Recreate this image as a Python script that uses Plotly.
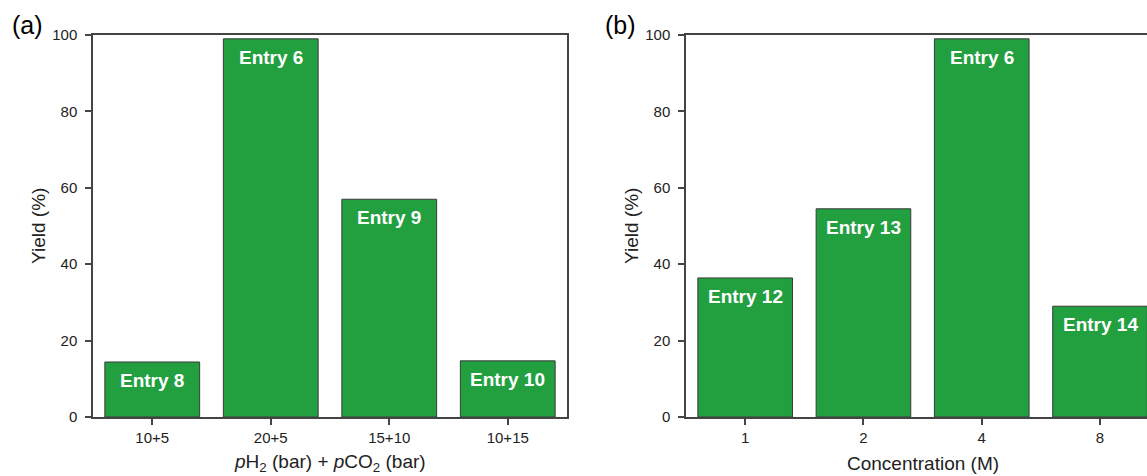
import plotly.graph_objects as go

# Panel (a)
pressure_labels = ["10+5", "20+5", "15+10", "10+15"]
pressure_yield = [14.4, 99.0, 57.0, 14.7]
pressure_entries = ["Entry 8", "Entry 6", "Entry 9", "Entry 10"]

# Panel (b)
conc_labels = ["1", "2", "4", "8"]
conc_yield = [36.4, 54.5, 99.0, 29.0]
conc_entries = ["Entry 12", "Entry 13", "Entry 6", "Entry 14"]

y_ticks = [0, 20, 40, 60, 80, 100]

BAR = "#22A040"
EDGE = "#3a3a3a"
AX = "#444444"
TXT = "#222222"
FONT = "Liberation Sans, Arial, sans-serif"
W, H = 1147, 476

fig = go.Figure()
fig.add_trace(go.Bar(x=pressure_labels, y=pressure_yield, xaxis="x", yaxis="y",
                     marker=dict(color=BAR, line=dict(color=EDGE, width=1)),
                     width=0.8, showlegend=False, hoverinfo="x+y"))
fig.add_trace(go.Bar(x=conc_labels, y=conc_yield, xaxis="x2", yaxis="y2",
                     marker=dict(color=BAR, line=dict(color=EDGE, width=1)),
                     width=0.8, showlegend=False, hoverinfo="x+y"))

annotations = []
for i, (val, ent) in enumerate(zip(pressure_yield, pressure_entries)):
    annotations.append(dict(x=i, y=val, xref="x", yref="y", text="<b>%s</b>" % ent,
                            showarrow=False, yanchor="top", yshift=-6,
                            font=dict(family=FONT, size=19, color="white")))
for i, (val, ent) in enumerate(zip(conc_yield, conc_entries)):
    annotations.append(dict(x=i, y=val, xref="x2", yref="y2", text="<b>%s</b>" % ent,
                            showarrow=False, yanchor="top", yshift=-6,
                            font=dict(family=FONT, size=19, color="white")))

def paper(px, py):
    return px / W, 1 - py / H

for txt, (px, py) in [("(a)", (27, 25)), ("(b)", (620, 25))]:
    x, y = paper(px, py)
    annotations.append(dict(x=x, y=y, xref="paper", yref="paper", text=txt, showarrow=False,
                            xanchor="center", yanchor="middle",
                            font=dict(family=FONT, size=25, color="black")))

# axis titles
for txt, (px, py) in [("<i>p</i>H<sub>2</sub> (bar) + <i>p</i>CO<sub>2</sub> (bar)", (330, 463)),
                      ("Concentration (M)", (923, 463))]:
    x, y = paper(px, py)
    annotations.append(dict(x=x, y=y, xref="paper", yref="paper", text=txt, showarrow=False,
                            xanchor="center", yanchor="middle",
                            font=dict(family=FONT, size=19, color=TXT)))
for px in (38, 631):
    x, y = paper(px, 226)
    annotations.append(dict(x=x, y=y, xref="paper", yref="paper", text="Yield (%)",
                            showarrow=False, textangle=-90, xanchor="center", yanchor="middle",
                            font=dict(family=FONT, size=19, color=TXT)))

ydom = [1 - 417 / H, 1 - 35 / H]
common_y = dict(range=[0, 100], tickvals=y_ticks, ticks="outside", ticklen=6, tickwidth=1.5,
                tickcolor=AX, showline=True, linecolor=AX, linewidth=1.5, showgrid=False,
                zeroline=False, tickfont=dict(family=FONT, size=15, color=TXT),
                ticklabelstandoff=5, domain=ydom, automargin=False, fixedrange=True)
common_x = dict(ticks="outside", ticklen=6, tickwidth=1.5, tickcolor=AX, showline=True,
                linecolor=AX, linewidth=1.5, showgrid=False, zeroline=False,
                tickfont=dict(family=FONT, size=15, color=TXT), type="category",
                automargin=False, fixedrange=True)

fig.update_layout(
    width=W, height=H,
    margin=dict(l=0, r=0, t=0, b=0, pad=0),
    paper_bgcolor="white", plot_bgcolor="white",
    font=dict(family=FONT, color=TXT),
    xaxis=dict(**common_x, domain=[93 / W, 567 / W], range=[-0.5, 3.5], mirror=True, anchor="y"),
    yaxis=dict(**common_y, mirror=True, anchor="x"),
    xaxis2=dict(**common_x, domain=[686 / W, 1.0], range=[-0.5, 3.397], mirror=True, anchor="y2"),
    yaxis2=dict(**common_y, mirror=False, anchor="x2"),
    annotations=annotations,
)

fig.write_html(
    "out.html",
    config={"displayModeBar": False},
    post_script="document.body.style.margin='0';document.body.style.padding='0';"
                "document.body.style.overflow='hidden';",
)
